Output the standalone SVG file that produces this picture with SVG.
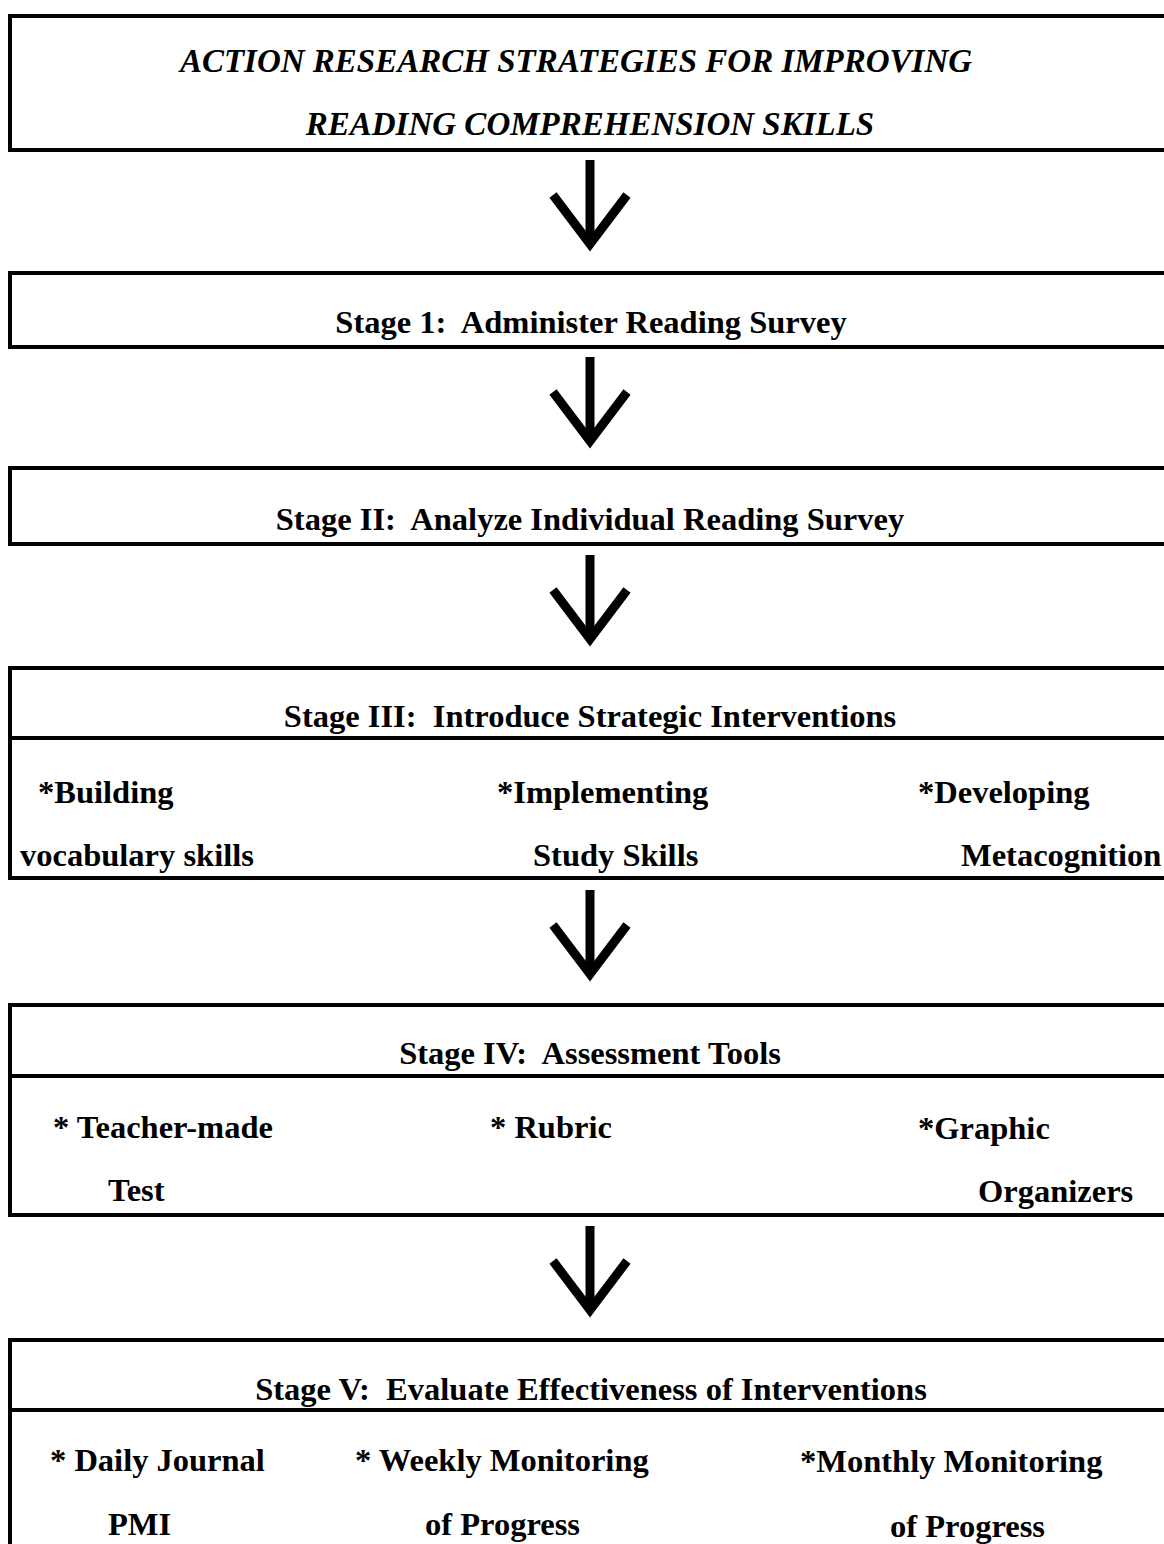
<svg xmlns="http://www.w3.org/2000/svg" width="1164" height="1544" viewBox="0 0 1164 1544">
<style>
.box{fill:none;stroke:#000;stroke-width:4}
.rule{stroke:#000;stroke-width:4}
.t{font-family:"Liberation Serif","Times New Roman",serif;font-weight:bold;font-size:32.5px;fill:#000;white-space:pre}
.ti{font-family:"Liberation Serif","Times New Roman",serif;font-weight:bold;font-style:italic;font-size:33px;fill:#000}
.c{text-anchor:middle}
.arr{fill:none;stroke:#000;stroke-width:9;stroke-linejoin:miter;stroke-miterlimit:10}
</style>
<defs>
<g id="arrow">
<line class="arr" x1="0" y1="0" x2="0" y2="84"/>
<polyline class="arr" points="-37,35 0,84 37,35"/>
</g>
</defs>
<rect width="1164" height="1544" fill="#fff"/>

<g id="node-title">
<path class="box" d="M1166,16 H10 V150 H1166"/>
<text class="ti c" x="576" y="72">ACTION RESEARCH STRATEGIES FOR IMPROVING</text>
<text class="ti c" x="590" y="135">READING COMPREHENSION SKILLS</text>
</g>

<g id="node-stage1">
<path class="box" d="M1166,273 H10 V347 H1166"/>
<text class="t c" x="591" y="333" xml:space="preserve">Stage 1:  Administer Reading Survey</text>
</g>

<g id="node-stage2">
<path class="box" d="M1166,468 H10 V544 H1166"/>
<text class="t c" x="590" y="530" xml:space="preserve">Stage II:  Analyze Individual Reading Survey</text>
</g>

<g id="node-stage3">
<path class="box" d="M1166,668 H10 V878 H1166"/>
<line class="rule" x1="10" y1="738" x2="1166" y2="738"/>
<text class="t c" x="590" y="727" xml:space="preserve">Stage III:  Introduce Strategic Interventions</text>
<text class="t" x="38" y="803">*Building</text>
<text class="t" x="20" y="866">vocabulary skills</text>
<text class="t" x="497" y="803">*Implementing</text>
<text class="t" x="533" y="866">Study Skills</text>
<text class="t" x="918" y="803">*Developing</text>
<text class="t" x="961" y="866">Metacognition</text>
</g>

<g id="node-stage4">
<path class="box" d="M1166,1005 H10 V1215 H1166"/>
<line class="rule" x1="10" y1="1076" x2="1166" y2="1076"/>
<text class="t c" x="590" y="1064" xml:space="preserve">Stage IV:  Assessment Tools</text>
<text class="t" x="53" y="1138">* Teacher-made</text>
<text class="t" x="108" y="1201">Test</text>
<text class="t" x="490" y="1138">* Rubric</text>
<text class="t" x="918" y="1139">*Graphic</text>
<text class="t" x="978" y="1202">Organizers</text>
</g>

<g id="node-stage5">
<path class="box" d="M1166,1340 H10 V1550"/>
<line class="rule" x1="10" y1="1410" x2="1166" y2="1410"/>
<text class="t c" x="591" y="1400" xml:space="preserve">Stage V:  Evaluate Effectiveness of Interventions</text>
<text class="t" x="50" y="1471">* Daily Journal</text>
<text class="t" x="108" y="1535">PMI</text>
<text class="t" x="355" y="1471">* Weekly Monitoring</text>
<text class="t" x="425" y="1535">of Progress</text>
<text class="t" x="800" y="1472">*Monthly Monitoring</text>
<text class="t" x="890" y="1537">of Progress</text>
</g>

<g id="connectors">
<use href="#arrow" x="590" y="160"/>
<use href="#arrow" x="590" y="357"/>
<use href="#arrow" x="590" y="555"/>
<use href="#arrow" x="590" y="890"/>
<use href="#arrow" x="590" y="1226"/>
</g>
</svg>
